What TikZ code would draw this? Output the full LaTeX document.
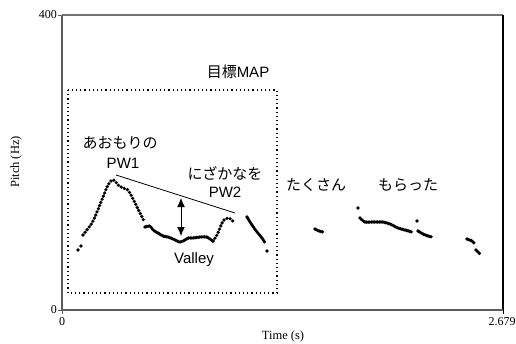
\documentclass[tikz,border=0pt]{standalone}
\usepackage{fontspec}
\setmainfont{Liberation Sans}
\newfontfamily\serifaxis{Liberation Serif}
\newfontfamily\cjk{Noto Sans CJK JP}
\usepackage{xcolor}
\usepackage{tikz}
\usetikzlibrary{arrows.meta}

\definecolor{axisgray}{gray}{0.45}

\tikzset{
    ticklabel/.style={font=\serifaxis\fontsize{12}{12}\selectfont, inner sep=1pt},
    jplabel/.style={font=\cjk\fontsize{15}{15}\selectfont, inner sep=0pt},
    pwlabel/.style={font=\fontsize{15}{15}\selectfont, inner sep=0pt},
    sparse/.style={line width=3.6pt, line cap=round, dash pattern=on 0pt off 3.4pt},
    dense/.style={line width=3.6pt, line cap=round, dash pattern=on 0pt off 1.6pt},
    pitchdot/.style={circle, fill=black, inner sep=0pt, minimum size=3.8pt},
}

\begin{document}
\begin{tikzpicture}[x=1pt, y=-1pt]
    \useasboundingbox (0,0) rectangle (516,343);

    % frame
    \coordinate (tl) at (62,15);
    \coordinate (tr) at (503,15);
    \coordinate (bl) at (62,310);
    \coordinate (br) at (503,310);
    \draw[axisgray, line width=1.2pt] (tl) -- (tr);
    \draw[black, line width=1.2pt] (tr) -- (br);
    \draw[axisgray!80!black, line width=1.2pt] (bl) -- (br);
    \draw[axisgray!80!black, line width=1.2pt] (bl) -- (tl);

    % ticks
    \draw[axisgray!80!black] (tl) -- ++(-4,0);
    \draw[axisgray!80!black] (bl) -- ++(-4,0);
    \draw[axisgray!80!black] (bl) -- ++(0,4);
    \draw[black] (br) -- ++(0,4);
    \node[ticklabel, anchor=east] (y400) at (58,15) {400};
    \node[ticklabel, anchor=east] (y0) at (58,310) {0};
    \node[ticklabel] (x0) at (62,322) {0};
    \node[ticklabel] (xmax) at (502,322) {2.679};

    % axis titles
    \node[font=\serifaxis\fontsize{12.5}{13}\selectfont] (xtitle) at (283,336) {Time (s)};
    \node[font=\serifaxis\fontsize{12.5}{13}\selectfont, rotate=90] (ytitle) at (16,162) {Pitch (Hz)};

    % target map
    \draw[line width=1.1pt, dash pattern=on 1.2pt off 3pt] (68,90) rectangle (277,293);
    \node[jplabel] (mapname) at (238,72) {目標\fontspec{Liberation Sans}MAP};

    % labels
    \node[jplabel] (aomori) at (120,143) {あおもりの};
    \node[pwlabel] (pwone) at (123,163) {PW1};
    \node[jplabel] (nizakana) at (225,173) {にざかなを};
    \node[pwlabel] (pwtwo) at (225,192) {PW2};
    \node[jplabel] (takusan) at (316,185) {たくさん};
    \node[jplabel] (moratta) at (408,185) {もらった};
    \node[pwlabel] (valley) at (194,260) {Valley};

    % declination line and valley depth
    \coordinate (peak) at (116,175);
    \coordinate (tail) at (235,213);
    \draw[line width=0.8pt] (peak) -- (tail);
    \coordinate (dtop) at (181,198);
    \coordinate (dbot) at (181,236);
    \draw[{Latex[length=9pt,width=8pt]}-{Latex[length=9pt,width=8pt]}, line width=1pt] (dtop) -- (dbot);

    % pitch contour
    \node[pitchdot] at (78,250) {};
    \node[pitchdot] at (81,246) {};
    \draw[sparse] plot[smooth] coordinates {(83,235) (86,231) (92,223) (97,212) (103,197) (108,185) (112,180) (115,181) (118,185) (123,188) (128,190) (132,197) (137,207) (140,213) (144,221)};
    \draw[dense] plot[smooth] coordinates {(145,227) (150,226) (153,230) (158,233) (163,236) (168,237) (173,239) (180,242) (185,240) (188,238) (193,238) (200,237) (207,237) (210,239) (213,241)};
    \draw[sparse] plot[smooth] coordinates {(213,241) (217,235) (220,228) (222,223) (224,220) (228,218) (232,220) (234,223)};
    \draw[dense] plot[smooth] coordinates {(247,217) (252,225) (257,232) (262,238) (265,243)};
    \node[pitchdot] at (267,251) {};
    \draw[dense] plot[smooth] coordinates {(315,229) (319,231) (323,232)};
    \node[pitchdot] at (358,208) {};
    \draw[dense] plot[smooth] coordinates {(360,218) (365,222) (372,222) (378,222) (383,222) (390,224) (398,228) (405,230) (412,232)};
    \node[pitchdot] at (417,221) {};
    \draw[dense] plot[smooth] coordinates {(418,231) (423,234) (428,236) (432,237)};
    \draw[dense] plot[smooth] coordinates {(467,239) (472,241) (474,243)};
    \draw[dense] plot[smooth] coordinates {(476,250) (478,252) (480,254)};
\end{tikzpicture}
\end{document}
